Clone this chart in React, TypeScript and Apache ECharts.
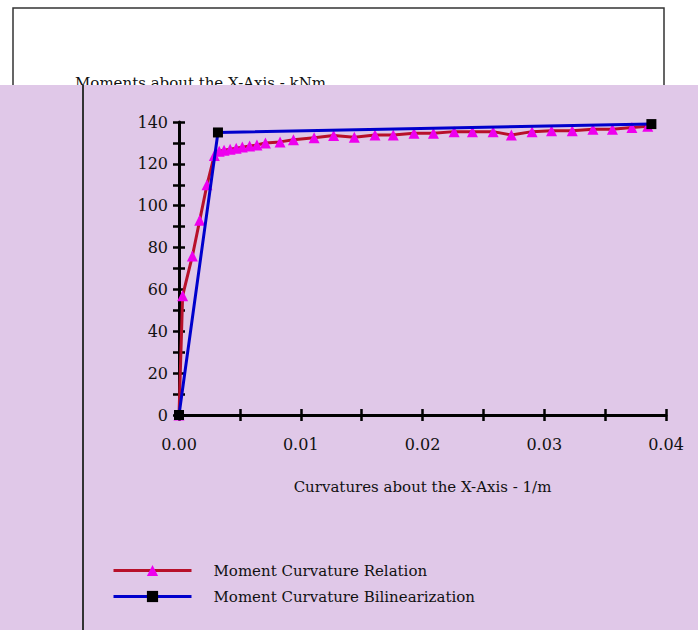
import React, { useEffect, useRef } from "react";
import * as echarts from "echarts";

// Moment Curvature Relation
const relCurvature = [
  0, 0.0003, 0.0011, 0.0017, 0.0023, 0.0029, 0.0033, 0.0037, 0.0042, 0.0047,
  0.0052, 0.0058, 0.0064, 0.0071, 0.0083, 0.0094, 0.0111, 0.0127, 0.0144,
  0.0161, 0.0176, 0.0193, 0.0209, 0.0226, 0.0241, 0.0258, 0.0273, 0.029,
  0.0306, 0.0323, 0.034, 0.0356, 0.0372, 0.0385,
];
const relMoment = [
  0, 57, 76, 93, 110, 124, 126, 126.5, 127, 127.5, 128, 128.5, 129, 130,
  130.5, 131.5, 132.5, 133.5, 132.7, 133.8, 133.8, 134.6, 134.6, 135.4, 135.4,
  135.4, 133.8, 135.4, 135.8, 135.8, 136.5, 136.5, 137.4, 138,
];

// Moment Curvature Bilinearization
const biCurvature = [0, 0.0032, 0.0388];
const biMoment = [0, 135, 139];

const seriesNames = ["Moment Curvature Relation", "Moment Curvature Bilinearization"];
const xAxisTitle = "Curvatures about the X-Axis - 1/m";
const yAxisTitle = "Moments about the X-Axis - kNm";

const FONT = "'DejaVu Serif', serif";

export default function App() {
  const ref = useRef<HTMLDivElement>(null);
  useEffect(() => {
    if (!ref.current) return;
    const chart = echarts.init(ref.current, undefined, { renderer: "svg" });
    const relData = relCurvature.map((c, i) => [c, relMoment[i]]);
    const biData = biCurvature.map((c, i) => [c, biMoment[i]]);
    const grid = { left: 179, right: 32, top: 122, bottom: 215 };
    const xBase = {
      type: "value" as const,
      min: 0,
      max: 0.04,
      interval: 0.005,
      splitLine: { show: false },
      z: 5,
    };
    const yBase = {
      type: "value" as const,
      min: 0,
      max: 140,
      interval: 10,
      splitLine: { show: false },
      z: 5,
    };
    const tickStyle = { color: "#000", width: 2.5 };
    chart.setOption({
      animation: false,
      backgroundColor: "#ffffff",
      grid,
      graphic: [
        {
          type: "rect",
          z: 0,
          shape: { x: 13, y: 8, width: 651, height: 110 },
          style: { fill: "#ffffff", stroke: "#333333", lineWidth: 1.5 },
        },
        {
          type: "text",
          z: 0,
          x: 75,
          y: 75,
          style: {
            text: yAxisTitle,
            font: `15px ${FONT}`,
            fill: "#111111",
            textVerticalAlign: "top",
          },
        },
        {
          type: "rect",
          z: 1,
          shape: { x: 0, y: 85, width: 698, height: 545 },
          style: { fill: "#e0c8e8" },
        },
        {
          type: "line",
          z: 2,
          shape: { x1: 83, y1: 85, x2: 83, y2: 630 },
          style: { stroke: "#333333", lineWidth: 2 },
        },
      ],
      xAxis: [
        {
          ...xBase,
          position: "bottom",
          name: xAxisTitle,
          nameLocation: "middle",
          nameGap: 64,
          nameTextStyle: { fontFamily: FONT, fontSize: 15, color: "#111" },
          axisLine: { onZero: false, lineStyle: { color: "#000", width: 3 } },
          axisTick: { show: true, length: 6, lineStyle: tickStyle },
          axisLabel: {
            margin: 21,
            fontFamily: FONT,
            fontSize: 16,
            color: "#111",
            formatter: (v: number) =>
              Math.round(v * 1000) % 10 === 0 ? v.toFixed(2) : "",
          },
        },
        {
          ...xBase,
          position: "bottom",
          axisLine: { show: false, onZero: false },
          axisTick: { show: true, inside: true, length: 6, lineStyle: tickStyle },
          axisLabel: { show: false },
        },
      ],
      yAxis: [
        {
          ...yBase,
          position: "left",
          axisLine: { show: true, onZero: false, lineStyle: { color: "#000", width: 3 } },
          axisTick: { show: true, length: 6, lineStyle: tickStyle },
          axisLabel: {
            margin: 11,
            fontFamily: FONT,
            fontSize: 16,
            color: "#111",
            formatter: (v: number) => (Math.round(v) % 20 === 0 ? String(v) : ""),
          },
        },
        {
          ...yBase,
          position: "left",
          axisLine: { show: false, onZero: false },
          axisTick: { show: true, inside: true, length: 6, lineStyle: tickStyle },
          axisLabel: { show: false },
        },
      ],
      legend: {
        orient: "vertical",
        left: 107,
        top: 558,
        itemWidth: 78,
        itemHeight: 14,
        itemGap: 11,
        data: seriesNames,
        lineStyle: { width: 3 },
        textStyle: { fontFamily: FONT, fontSize: 15, color: "#111", padding: [0, 0, 0, 17] },
      },
      series: [
        {
          name: seriesNames[0],
          type: "line",
          z: 6,
          data: relData,
          symbol: "triangle",
          symbolSize: 11,
          lineStyle: { color: "#b8102a", width: 3 },
          itemStyle: { color: "#ee00ee" },
        },
        {
          name: seriesNames[1],
          type: "line",
          z: 7,
          data: biData,
          symbol: "rect",
          symbolSize: 10,
          lineStyle: { color: "#0000cc", width: 3 },
          itemStyle: { color: "#000000" },
        },
      ],
    });
    return () => chart.dispose();
  }, []);
  return (
    <div
      ref={ref}
      style={{ position: "fixed", left: 0, top: 0, width: 698, height: 630 }}
    />
  );
}
